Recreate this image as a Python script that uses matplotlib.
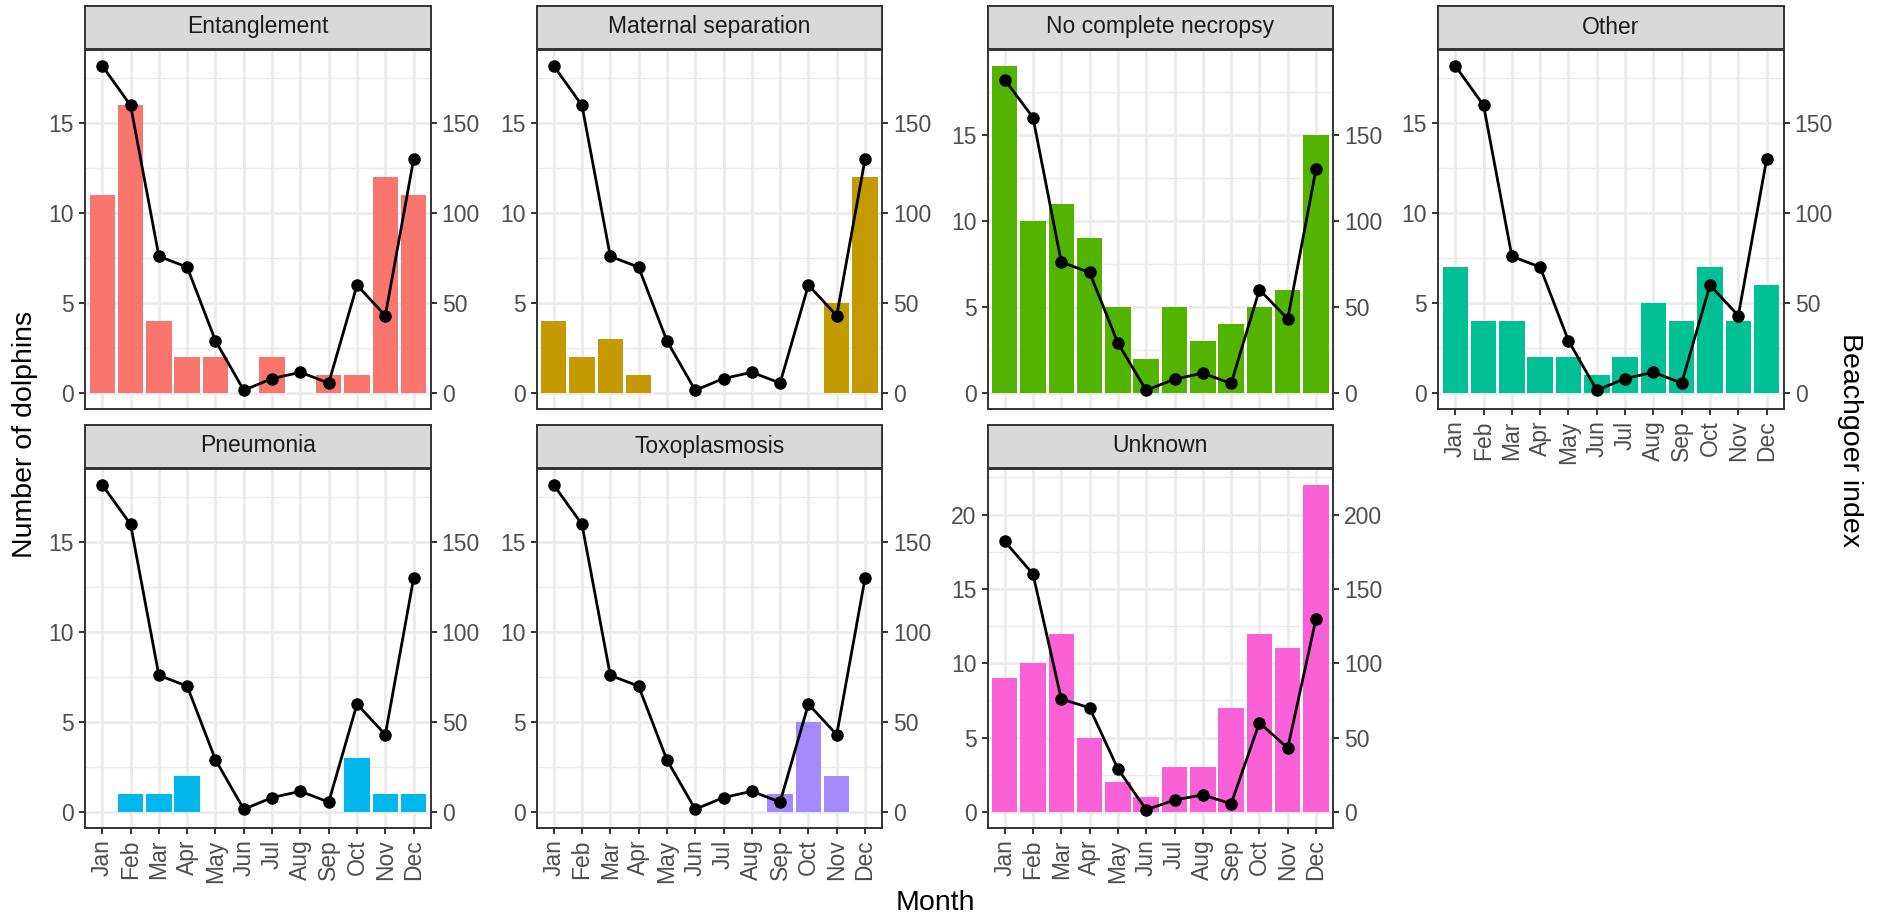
import matplotlib
matplotlib.use("Agg")
import matplotlib.pyplot as plt
import numpy as np
from matplotlib.ticker import MultipleLocator

plt.rcParams['font.family'] = ['Liberation Sans', 'DejaVu Sans']

months = ["Jan", "Feb", "Mar", "Apr", "May", "Jun", "Jul", "Aug", "Sep", "Oct", "Nov", "Dec"]
beachgoer_index = [182, 160, 76, 70, 29, 1.5, 8, 11.5, 5.5, 60, 43, 130]

causes = ["Entanglement", "Maternal separation", "No complete necropsy", "Other",
          "Pneumonia", "Toxoplasmosis", "Unknown"]
entanglement = [11, 16, 4, 2, 2, 0, 2, 0, 1, 1, 12, 11]
maternal_separation = [4, 2, 3, 1, 0, 0, 0, 0, 0, 0, 5, 12]
no_complete_necropsy = [19, 10, 11, 9, 5, 2, 5, 3, 4, 5, 6, 15]
other = [7, 4, 4, 2, 2, 1, 2, 5, 4, 7, 4, 6]
pneumonia = [0, 1, 1, 2, 0, 0, 0, 0, 0, 3, 1, 1]
toxoplasmosis = [0, 0, 0, 0, 0, 0, 0, 0, 1, 5, 2, 0]
unknown = [9, 10, 12, 5, 2, 1, 3, 3, 7, 12, 11, 22]
counts = [entanglement, maternal_separation, no_complete_necropsy, other,
          pneumonia, toxoplasmosis, unknown]
colors = ["#F8766D", "#C49A00", "#53B400", "#00C094", "#00B6EB", "#A58AFF", "#FB61D7"]
scale = 10.0

W, H = 1883, 918
fig = plt.figure(figsize=(W / 100, H / 100), dpi=100)

col_left = [85.3, 536.7, 987.7, 1438.3]
pw = 345.3
row_top = [49.5, 468.5]
row_bot = [409.3, 828.3]
strip_h = 43

grey30 = "#4D4D4D"
grey20 = "#333333"
x = np.arange(1, 13)
line_vals = np.array(beachgoer_index) / scale
tick_fs = 16.5
title_fs = 20.5

for i, (name, vals, col) in enumerate(zip(causes, counts, colors)):
    r, c = divmod(i, 4)
    left = col_left[c] / W
    bottom = 1 - row_bot[r] / H
    height = (row_bot[r] - row_top[r]) / H
    ax = fig.add_axes([left, bottom, pw / W, height])
    ax.set_axisbelow(True)
    ax.bar(x, vals, width=0.9, color=col, zorder=2)
    ax.plot(x, line_vals, color="black", lw=2.0, zorder=3)
    ax.plot(x, line_vals, "o", color="black", ms=8, zorder=4)
    top = max(max(vals), line_vals.max())
    rng = top - 0
    ax.set_ylim(-0.05 * rng, top + 0.05 * rng)
    ax.set_xlim(0.4, 12.6)
    ax.yaxis.set_major_locator(MultipleLocator(5))
    ax.yaxis.set_minor_locator(MultipleLocator(2.5))
    ax.set_xticks(x)
    ax.grid(which="major", color="#EBEBEB", lw=2.0)
    ax.grid(which="minor", axis="y", color="#EBEBEB", lw=1.0)
    for s in ax.spines.values():
        s.set_color(grey20)
        s.set_linewidth(1.4)
        s.set_zorder(5)
    ax.tick_params(axis="both", which="major", length=4.5, width=1.4, color=grey20,
                   labelcolor=grey30, labelsize=tick_fs, pad=3.5)
    ax.tick_params(axis="y", which="minor", length=0)
    show_x = (r == 1) or (c == 3)
    if show_x:
        ax.set_xticklabels(months, rotation=90)
    else:
        ax.tick_params(axis="x", length=0, labelbottom=False)
    sec = ax.secondary_yaxis("right", functions=(lambda y: y * scale, lambda y: y / scale))
    sec.yaxis.set_major_locator(MultipleLocator(50))
    sec.tick_params(axis="y", length=4.5, width=1.4, color=grey20,
                    labelcolor=grey30, labelsize=tick_fs, pad=3.5)
    sec.spines["right"].set_visible(False)
    # strip
    sax = fig.add_axes([left, 1 - (row_top[r] - 1) / H, pw / W, strip_h / H])
    sax.set_facecolor("#D9D9D9")
    sax.set_xticks([]); sax.set_yticks([])
    for s in sax.spines.values():
        s.set_color(grey20)
        s.set_linewidth(1.4)
    sax.text(0.5, 0.5, name, ha="center", va="center", fontsize=tick_fs, color="#1A1A1A",
             transform=sax.transAxes)

fig.text(25 / W, 1 - 434 / H, "Number of dolphins", rotation=90, ha="center", va="center",
         fontsize=title_fs, color="black")
fig.text(1850 / W, 1 - 440 / H, "Beachgoer index", rotation=270, ha="center", va="center",
         fontsize=title_fs, color="black")
fig.text(935 / W, 1 - 903 / H, "Month", ha="center", va="center", fontsize=title_fs, color="black")

fig.savefig("out.png", dpi=100)
